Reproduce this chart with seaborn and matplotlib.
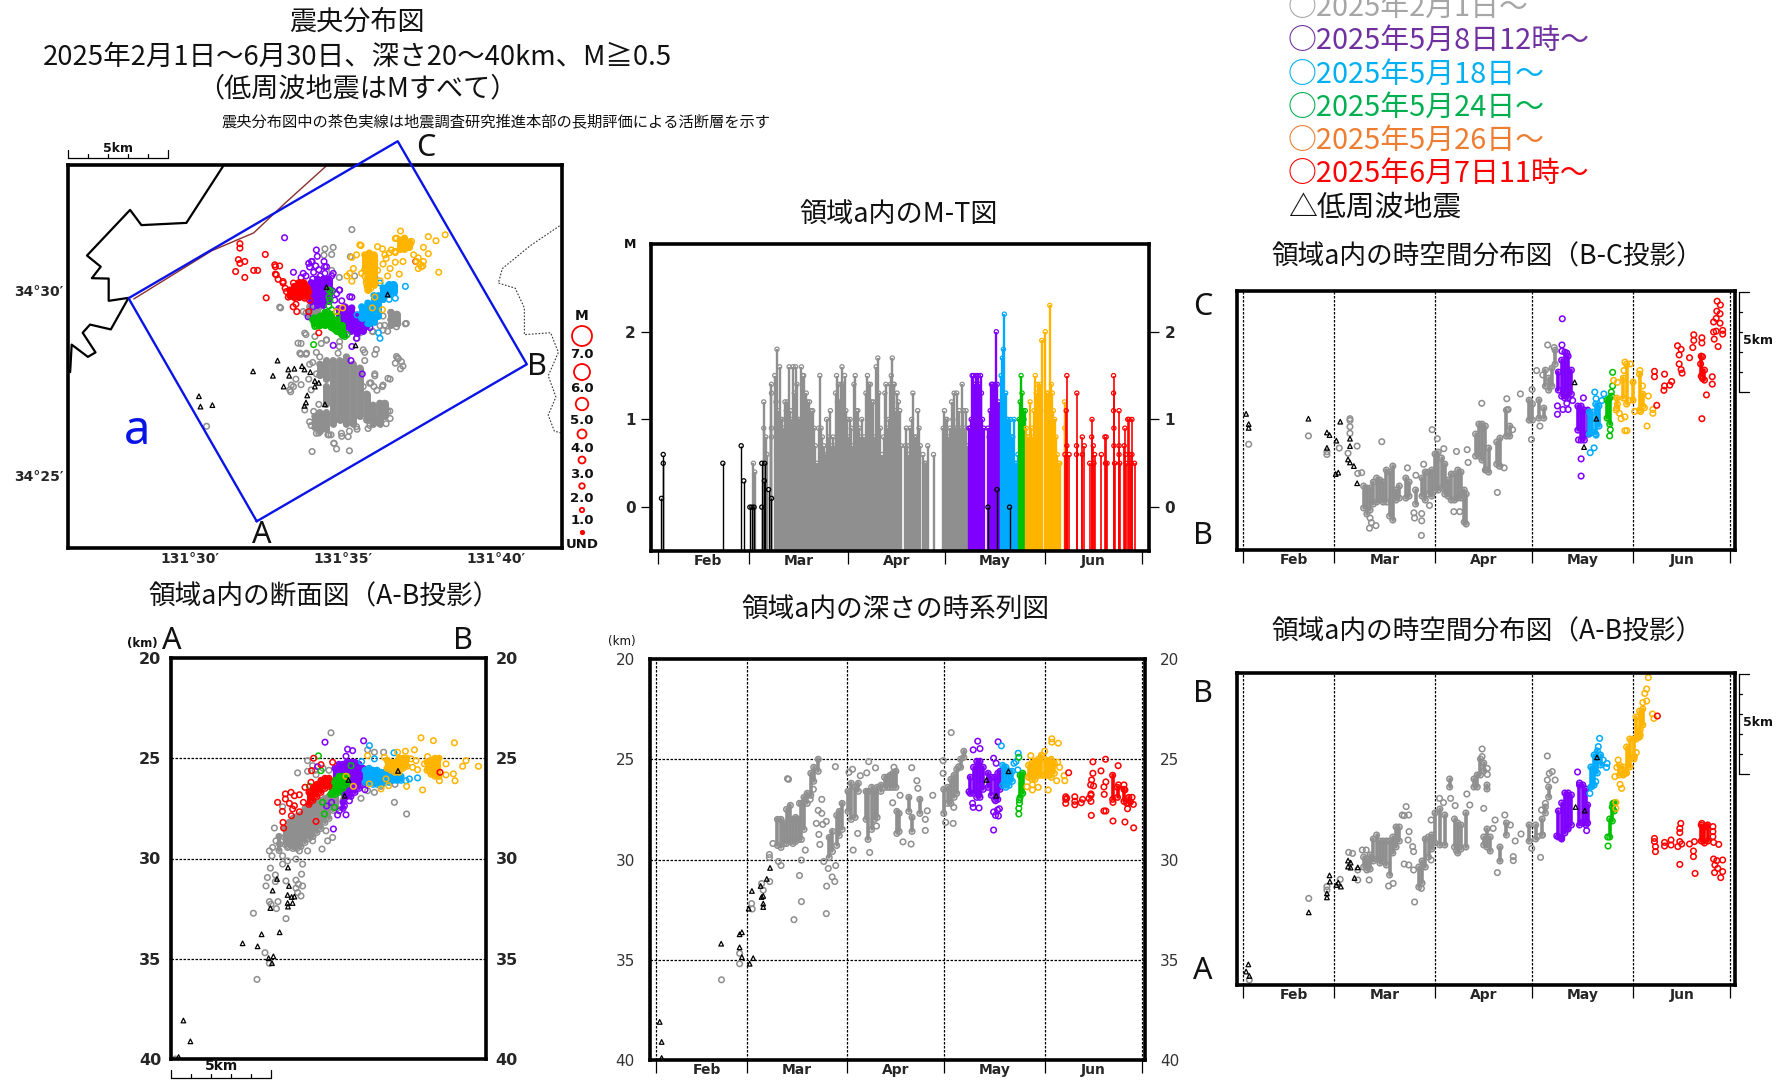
import matplotlib
matplotlib.use("Agg")
import matplotlib.pyplot as plt
import seaborn as sns

# colours of the period classes
GRAY = "#8f8f8f"
PURPLE = "#8000ff"
BLUE = "#00aaff"
GREEN = "#00c000"
ORANGE = "#ffb400"
RED = "#ff0000"

MONTH_STARTS = [0, 28, 59, 89, 120, 150]
MONTH_MIDS = [15.5, 43.5, 74, 104.5, 135]
MONTH_NAMES = ["Feb", "Mar", "Apr", "May", "Jun"]

LEGEND_TEXT = ["○2025年2月1日～", "○2025年5月8日12時～", "○2025年5月18日～", "○2025年5月24日～",
               "○2025年5月26日～", "○2025年6月7日11時～", "△低周波地震"]
LEGEND_COLORS = ["#a6a6a6", "#7030a0", "#00b0f0", "#00b050", "#ed7d31", "#ff0000", "#111111"]

# ---- map: longitude / latitude in minutes (131deg+, 34deg+)
COAST = [(31.08, 33.35), (29.87, 31.81), (28.4, 31.75), (28.03, 32.16), (26.62, 30.93), (27.07, 30.63),
         (26.78, 30.32), (27.33, 30.31), (27.33, 29.71), (27.98, 29.79), (27.4, 28.94), (26.72, 29.07),
         (26.48, 28.85), (26.9, 28.32), (26.65, 28.2), (26.12, 28.53), (26.07, 27.79)]
PREF_BORDER = [(42.07, 31.73), (41.12, 31.2), (40.2, 30.58), (40.07, 30.19), (40.62, 30.05), (40.92, 29.52),
               (40.92, 28.8), (41.78, 28.85), (42.03, 28.32), (41.7, 27.69), (41.95, 27.12), (41.7, 26.63),
               (41.9, 26.2), (42.12, 26.15)]
FAULT = [(28.15, 29.76), (30.7, 31.06), (32.07, 31.54), (33.12, 32.36), (34.45, 33.35)]
REGION_A = [(32.17, 23.77), (41.0, 28.0), (36.78, 34.01), (27.98, 29.78), (32.17, 23.77)]

MAP_GRAY = [(35.28, 31.63), (34.4, 31.11), (34.67, 31.15), (34.62, 30.96), (34.37, 30.94), (35.23, 30.9),
            (34.62, 30.53), (34.87, 30.34), (35.37, 30.38), (32.95, 29.52), (33.78, 29.38), (34.2, 29.52),
            (36.62, 29.33), (36.78, 29.09), (37.03, 29.09), (36.45, 28.89), (36.2, 29.04), (35.95, 28.89),
            (35.45, 28.7), (33.78, 28.8), (33.62, 28.56), (34.28, 28.56), (34.45, 28.65), (34.87, 28.48),
            (33.78, 28.27), (33.62, 28.27), (36.78, 28.17), (36.7, 28.03), (36.87, 27.88), (34.12, 28.32),
            (35.7, 28.32), (36.03, 28.27), (35.12, 28.17), (36.28, 27.4), (36.53, 27.6), (36.03, 27.69),
            (34.12, 27.74), (33.87, 27.6), (33.62, 27.45), (33.37, 27.4), (33.28, 27.26), (33.45, 27.6),
            (33.95, 27.31), (30.53, 26.33), (33.98, 25.65), (34.7, 25.87), (34.78, 25.72), (35.2, 25.67),
            (34.95, 26.06), (34.53, 26.1), (34.2, 26.15), (33.95, 26.35), (36.45, 26.73), (36.53, 26.54),
            (36.2, 26.92), (36.12, 26.44), (35.87, 26.35), (35.45, 26.25), (34.45, 26.92), (34.37, 26.63),
            (34.2, 26.92), (34.03, 26.73), (36.3, 29.3), (36.55, 29.2), (36.35, 29.05), (35.1, 29.5),
            (34.5, 29.4), (34.3, 29.2), (34.0, 29.3), (36.0, 27.4), (36.1, 27.3), (35.9, 27.5), (34.0, 28.05), (33.9, 28.0),
            (36.8, 28.15), (36.95, 27.95), (35.7, 28.1), (36.4, 26.4), (35.2, 26.2), (34.6, 26.1),
            (34.69, 25.87), (35.16, 26.05), (35.81, 26.27), (36.52, 26.74), (36.46, 27.62), (36.03, 27.74), (36.74, 28.21),
            (36.9, 28.07), (33.52, 28.57), (33.58, 28.3), (33.8, 28.3), (34.23, 28.2), (34.83, 28.3), (35.65, 28.39),
            (36.08, 28.4), (33.3, 27.44), (33.25, 27.31), (33.74, 26.77), (33.9, 26.45), (34.12, 26.14), (34.5, 26.1),
            (34.94, 26.14), (35.43, 26.32), (36.03, 26.5), (36.35, 26.9), (35.86, 27.49), (36.3, 27.44), (35.65, 27.4),
            (33.74, 28.84), (34.07, 28.75), (34.45, 28.66), (34.88, 28.61), (35.54, 28.84), (35.97, 28.88), (36.3, 28.92),
            (36.74, 29.01), (37.06, 29.1), (33.69, 29.42), (32.92, 29.54)]
MAP_GRAY_BANDS = [(34.07, 26.3, 26.6), (34.23, 26.2, 26.7), (34.23, 27.7, 28.0), (34.45, 26.25, 26.7), (34.45, 27.6, 28.1), (34.45, 26.95, 27.4),
                  (34.67, 26.4, 28.1), (34.88, 26.5, 28.1), (35.1, 26.4, 28.2), (35.32, 26.4, 28.0), (35.54, 26.6, 27.9),
                  (35.76, 26.5, 27.2), (35.97, 26.4, 26.9), (36.19, 26.4, 26.95), (36.35, 26.6, 26.95),
                  (33.9, 29.3, 29.55), (34.15, 29.35, 29.55), (36.55, 29.05, 29.4), (36.75, 29.1, 29.35)]
MAP_PURPLE = [(33.08, 31.41), (34.12, 31.08), (34.15, 30.91), (33.87, 30.72), (33.98, 30.77), (34.37, 30.77),
              (34.45, 30.63), (33.78, 30.38), (34.03, 30.48), (34.25, 30.38), (34.62, 30.38), (34.37, 30.19),
              (33.62, 30.34), (33.37, 30.48), (34.78, 29.9), (34.87, 30.0), (34.95, 29.71), (35.28, 29.81),
              (35.28, 29.52), (35.45, 29.33), (35.78, 29.04), (35.87, 28.99), (35.45, 28.85), (35.03, 28.8),
              (34.67, 28.51), (35.28, 28.48), (35.62, 27.74), (34.2, 30.55), (34.4, 30.45), (34.0, 30.3),
              (35.25, 28.1), (34.1, 30.65), (33.9, 30.62), (34.5, 30.2), (34.65, 29.98),
              (33.96, 30.77), (34.39, 30.63), (34.67, 30.45), (33.69, 30.45), (34.88, 30.0), (34.72, 29.73), (35.21, 29.82),
              (35.54, 29.1), (35.76, 29.02), (35.43, 28.7), (34.01, 29.55), (33.85, 29.28)]
MAP_PURPLE_BANDS = [(33.95, 29.7, 30.2), (34.15, 29.6, 30.3), (34.35, 29.6, 30.3), (34.52, 29.7, 30.3),
                    (34.85, 29.2, 29.5), (35.05, 29.0, 29.55), (35.25, 28.9, 29.5), (35.45, 28.85, 29.3), (35.65, 28.9, 29.2)]
MAP_BLUE = [(37.03, 30.1), (36.62, 30.14), (36.45, 30.1), (36.2, 30.19), (36.03, 30.34), (36.15, 28.85),
            (36.2, 28.7), (36.53, 30.0), (35.87, 29.09), (35.45, 29.33), (36.7, 29.78), (36.5, 29.75)]
MAP_BLUE_BANDS = [(35.6, 29.25, 29.55), (35.8, 29.1, 29.65), (36.0, 29.15, 29.85), (36.15, 29.3, 29.85),
                  (36.3, 29.75, 30.05), (36.5, 29.9, 30.15), (36.65, 29.95, 30.15)]
MAP_GREEN = [(34.53, 30.0), (34.53, 29.81), (34.53, 29.57), (34.62, 29.47), (34.03, 28.53), (34.2, 29.04),
             (35.12, 28.8), (34.78, 28.89), (34.12, 29.04), (34.45, 29.18), (34.8, 29.3), (34.7, 28.95),
             (34.0, 29.2), (34.9, 28.85), (34.01, 29.2), (34.07, 29.02), (34.88, 28.92), (35.05, 28.75), (34.56, 29.73), (34.61, 29.96)]
MAP_GREEN_BANDS = [(34.05, 29.1, 29.25), (34.25, 29.05, 29.3), (34.4, 29.05, 29.4), (34.6, 29.0, 29.35), (34.8, 28.9, 29.2), (34.95, 28.8, 29.05)]
MAP_ORANGE = [(36.87, 31.59), (38.33, 31.49), (37.78, 31.44), (38.03, 31.33), (36.7, 31.39), (35.58, 31.2),
              (36.12, 31.17), (37.2, 31.25), (37.62, 31.15), (36.28, 31.11), (37.78, 30.98), (35.28, 30.88),
              (36.7, 31.01), (36.95, 30.77), (37.45, 30.87), (37.62, 30.77), (37.45, 30.58), (38.12, 30.48),
              (36.83, 30.43), (36.53, 30.58), (35.33, 30.58), (35.12, 30.38), (35.28, 30.24), (35.7, 30.38),
              (36.12, 30.53), (36.45, 30.38), (35.78, 30.1), (36.03, 29.81), (35.95, 29.52), (34.78, 29.42),
              (34.98, 29.52), (36.28, 29.47), (35.75, 30.2), (35.9, 30.05), (36.3, 30.7), (37.3, 30.95),
              (36.7, 30.75), (36.4, 30.85), (35.6, 30.45), (36.2, 30.25), (36.5, 31.0), (37.5, 30.7), (37.6, 30.65),
              (35.54, 31.22), (35.43, 30.95), (35.21, 30.45), (35.76, 30.27), (36.03, 30.81), (36.36, 30.95),
              (36.68, 31.04), (36.74, 31.4), (36.57, 31.08), (37.23, 31.31), (37.39, 30.77), (37.55, 30.63)]
MAP_ORANGE_BANDS = [(35.7, 30.55, 30.95), (35.85, 30.4, 31.0), (36.0, 30.4, 30.95), (35.8, 30.0, 30.35), (36.0, 30.15, 30.3),
                    (36.85, 31.1, 31.35), (37.0, 31.1, 31.4), (37.15, 31.15, 31.3)]
MAP_RED = [(31.62, 31.25), (31.62, 31.13), (31.57, 30.82), (31.62, 30.72), (31.78, 30.77), (31.48, 30.5),
           (31.78, 30.34), (32.07, 30.53), (32.2, 30.53), (32.45, 30.96), (32.78, 30.63), (32.92, 30.65),
           (32.78, 30.43), (32.87, 30.29), (33.03, 30.19), (33.37, 30.19), (33.62, 30.19), (33.28, 29.95),
           (33.2, 29.81), (33.53, 29.9), (33.78, 30.1), (33.87, 29.95), (33.45, 29.62), (33.48, 29.42),
           (32.48, 29.79), (33.87, 29.42), (34.2, 28.85), (37.37, 30.77), (33.1, 30.05), (33.9, 29.72),
           (32.76, 30.68), (32.81, 30.41), (33.03, 30.23), (33.14, 29.96), (33.36, 29.55), (33.74, 29.78)]
MAP_RED_BANDS = [(33.25, 29.85, 30.0), (33.4, 29.8, 30.1), (33.55, 29.8, 30.2), (33.7, 29.85, 30.2), (33.82, 29.85, 30.05)]
MAP_LOWFREQ = [(30.28, 27.14), (30.33, 26.86), (30.72, 26.9), (32.05, 27.81), (32.7, 27.69), (32.85, 28.1),
               (33.2, 27.86), (33.4, 27.88), (33.65, 27.95), (33.73, 27.86), (33.92, 27.79), (33.23, 27.69),
               (33.05, 27.4), (34.07, 27.55), (34.2, 27.5), (34.07, 27.4), (33.82, 27.16), (33.78, 26.97),
               (33.73, 26.88), (34.4, 26.92), (34.45, 30.08), (36.45, 29.88), (35.4, 28.51)]

# ---- cross section: km along A-B / depth km
CS_GRAY = [(8.0, 23.73), (6.33, 25.73), (6.83, 25.12), (7.08, 25.37), (6.83, 25.65), (7.25, 25.82), (5.17, 28.48),
           (5.58, 27.42), (5.67, 28.95), (5.25, 29.12), (4.92, 29.62), (5.08, 29.45), (5.42, 29.28), (5.05, 29.87),
           (5.58, 29.87), (5.83, 29.45), (6.42, 29.62), (6.83, 29.62), (7.08, 29.12), (7.55, 29.53), (7.83, 29.12),
           (8.08, 28.95), (7.75, 28.62), (6.25, 30.03), (6.58, 30.28), (5.58, 30.28), (5.83, 30.12), (4.97, 30.48),
           (5.22, 30.82), (4.82, 30.95), (4.75, 31.37), (5.22, 31.15), (5.75, 31.12), (6.25, 31.08), (6.53, 30.78),
           (6.58, 31.37), (6.37, 31.28), (6.25, 31.48), (6.33, 31.7), (6.5, 31.87), (4.92, 32.15), (5.35, 32.15),
           (5.0, 32.28), (5.27, 32.5), (5.75, 33.0), (4.12, 32.73), (4.7, 34.7), (4.92, 35.23), (4.3, 36.03),
           (0.22, 40.0), (9.5, 27.0), (11.17, 27.2), (11.78, 27.78), (10.17, 24.7), (9.83, 24.58), (10.17, 26.7),
           (10.63, 24.7), (9.83, 26.62), (7.2, 25.6), (7.6, 25.5), (7.9, 25.6), (10.5, 26.4), (11.2, 26.3)]
CS_GRAY_BANDS = [(5.4, 28.9, 29.6), (5.7, 28.5, 29.3), (5.9, 28.2, 29.4), (6.1, 28.0, 29.5), (6.3, 27.9, 29.5),
                 (6.5, 27.8, 29.4), (6.7, 27.5, 29.2), (6.9, 27.4, 29.0), (7.1, 27.3, 28.9), (7.3, 27.2, 28.7),
                 (7.5, 27.1, 28.5), (7.7, 27.0, 28.2), (7.9, 26.9, 28.0), (8.1, 26.8, 27.6), (8.3, 26.5, 27.5),
                 (8.6, 26.2, 27.1), (8.9, 26.0, 26.8)]
CS_PURPLE = [(7.7, 24.2), (9.63, 24.13), (8.83, 24.55), (9.08, 24.62), (7.33, 25.42), (8.75, 24.9), (8.12, 28.53),
             (7.78, 27.38), (8.03, 27.2), (8.75, 27.82), (8.33, 27.83), (8.67, 27.37), (8.42, 27.62), (9.7, 26.57),
             (8.92, 27.12)]
CS_PURPLE_BANDS = [(8.2, 25.5, 26.4), (8.4, 25.3, 26.5), (8.6, 25.3, 26.7), (8.8, 25.2, 26.9), (9.0, 25.2, 26.9),
                   (9.2, 25.2, 26.7), (9.4, 25.3, 26.5), (9.6, 25.5, 26.3), (8.6, 27.2, 27.5)]
CS_BLUE = [(9.92, 24.37), (11.15, 24.73), (10.17, 25.03), (9.53, 25.17), (12.33, 25.98), (11.92, 26.03), (11.75, 26.12)]
CS_BLUE_BANDS = [(9.7, 25.6, 26.2), (9.9, 25.5, 26.2), (10.1, 25.6, 26.3), (10.3, 25.6, 26.3), (10.5, 25.7, 26.3),
                 (10.7, 25.7, 26.2), (10.9, 25.7, 26.2), (11.1, 25.8, 26.1), (11.3, 25.8, 26.1), (11.5, 25.9, 26.1)]
CS_GREEN = [(7.37, 24.88), (7.5, 25.62), (9.0, 25.37), (6.92, 26.4), (7.58, 27.2), (8.17, 27.45), (7.67, 27.78), (8.0, 26.78)]
CS_GREEN_BANDS = [(8.0, 26.3, 26.8), (8.2, 26.1, 26.8), (8.4, 25.9, 26.7), (8.6, 25.9, 26.5), (8.8, 25.9, 26.3)]
CS_ORANGE = [(12.5, 23.98), (13.12, 24.12), (14.17, 24.23), (11.33, 24.7), (11.72, 24.65), (12.17, 24.58), (10.67, 24.95),
             (9.83, 24.87), (14.75, 25.12), (14.58, 25.4), (15.37, 25.4), (14.12, 25.78), (14.2, 26.12), (13.75, 25.83),
             (13.75, 25.28), (12.58, 26.58), (11.78, 26.4), (10.5, 26.53), (9.92, 26.28), (9.12, 26.4), (8.75, 25.9),
             (10.88, 26.37), (12.08, 25.45), (12.25, 25.12), (12.0, 25.03), (12.67, 25.28), (12.83, 24.92), (13.42, 26.12),
             (12.92, 25.62), (12.33, 25.57), (10.75, 26.03), (11.08, 25.28)]
CS_ORANGE_BANDS = [(10.8, 25.1, 25.5), (11.0, 25.2, 25.6), (11.2, 25.2, 25.7), (11.4, 25.0, 25.7), (11.6, 25.0, 25.5),
                   (11.8, 25.0, 25.4), (12.8, 25.2, 25.6), (13.0, 25.1, 25.8), (13.2, 25.0, 25.9), (13.4, 25.0, 25.9)]
CS_RED = [(7.13, 25.0), (7.5, 25.32), (7.03, 25.62), (8.08, 25.2), (13.45, 25.7), (7.25, 28.15), (5.6, 28.2), (5.63, 28.48),
          (5.33, 27.2), (5.57, 27.65), (5.72, 26.78), (5.72, 27.03), (6.0, 26.7), (6.17, 26.87), (6.42, 26.82), (5.92, 27.25),
          (6.17, 27.37), (6.42, 27.67), (6.02, 27.87), (6.08, 27.53), (6.7, 26.45), (6.62, 27.2), (7.0, 26.2)]
CS_RED_BANDS = [(6.9, 26.7, 27.3), (7.1, 26.5, 27.1), (7.3, 26.3, 26.9), (7.5, 26.1, 26.7), (7.7, 26.0, 26.5), (7.9, 26.0, 26.4)]
CS_LOWFREQ = [(0.62, 38.08), (0.97, 39.12), (0.38, 39.9), (3.58, 34.23), (4.33, 34.38), (4.53, 33.78), (5.43, 33.68),
              (4.88, 34.97), (5.12, 34.88), (5.05, 35.22), (5.85, 30.45), (5.3, 31.02), (5.9, 31.37), (5.08, 31.6),
              (5.83, 31.82), (6.03, 31.92), (6.17, 31.9), (6.08, 32.22), (5.83, 32.22), (5.85, 32.4), (4.97, 32.47),
              (8.68, 26.87), (8.87, 26.08), (11.35, 25.63)]

# ---- M-T: days since 1 Feb / magnitude
MT_BLACK = [(0.95, 0.1), (1.5, 0.6), (1.5, 0.5), (20, 0.5), (25.7, 0.7), (26.5, 0.3), (28.4, 0), (29, 0), (29.7, 0),
            (32.1, 0.5), (32.1, 0), (33, 0.5), (32.9, 0.3), (34.2, 0.2), (35.1, 0.1), (102.3, 0), (105.1, 0.2), (109, 0)]
MT_GRAY = [(29.9, 0.4), (29.5, 0.5), (32.7, 1.2), (33.3, 0.8), (32.7, 0.9), (35.1, 1.4), (35.1, 1.3), (35.1, 0.9), (35.1, 0.8),
           (33.7, 0.6), (36.1, 1.5), (36.5, 1.2), (36.8, 1.8), (37.2, 1.1), (37.6, 1.6), (38, 1.0), (38.4, 1.0), (38.8, 0.9),
           (39.3, 1.2), (39.7, 1.1), (40, 1.2), (40.3, 1.0), (40.6, 1.6), (41, 1.1), (41.4, 1.0), (41.8, 1.6), (42.2, 1.3),
           (42.6, 1.6), (43, 1.4), (43.5, 1.0), (44, 1.0), (44.4, 1.6), (44.8, 1.5), (45.1, 1.5), (45.5, 1.2), (45.9, 1.3),
           (46.3, 1.2), (46.9, 1.2), (47.4, 1.1), (47.9, 1.1), (48.3, 0.9), (48.7, 0.7), (49.2, 0.5), (49.7, 0.9), (50.1, 1.5),
           (50.5, 0.9), (50.9, 0.8), (51.3, 0.7), (51.7, 0.6), (52.2, 1.0), (52.6, 0.6), (53, 0.8), (53.4, 1.1), (53.8, 0.7),
           (54.2, 0.8), (54.7, 0.7), (55, 1.3), (55.3, 1.5), (55.6, 1.2), (55.9, 1.4), (56.3, 1.2), (56.7, 1.4), (57, 1.6),
           (57.4, 1.4), (57.8, 1.5), (58.2, 1.1), (58.7, 1.0), (59.1, 0.8), (59.5, 1.0), (59.9, 0.9), (60.3, 0.7), (60.7, 1.4),
           (61.1, 1.5), (61.5, 1.1), (61.9, 1.1), (62.3, 0.9), (62.7, 0.8), (63.1, 1.0), (63.5, 0.7), (63.9, 0.8), (64.4, 1.3),
           (64.9, 1.5), (65.3, 1.4), (65.8, 1.4), (66.2, 1.2), (66.7, 1.2), (67.1, 0.8), (67.6, 1.6), (68.1, 1.7), (68.4, 1.3),
           (68.9, 0.9), (69.4, 0.6), (69.9, 0.8), (70.3, 1.3), (70.6, 1.4), (71, 0.9), (71.5, 1.0), (72, 1.4), (72.3, 1.5),
           (72.6, 1.7), (73, 1.4), (73.2, 1.4), (73.6, 1.1), (74.1, 1.3), (74.5, 1.2), (74.9, 1.1), (75.3, 0.7), (76.6, 0.7),
           (77, 0.9), (77.3, 0.7), (77.7, 0.6), (78.2, 0.9), (78.6, 1.0), (79, 1.3), (79.5, 0.8), (80, 0.8), (80.5, 1.1),
           (80.9, 0.9), (81.3, 0.7), (82.1, 0.6), (82.6, 0.5), (83.1, 0.5), (83.6, 0.7), (85.4, 0.6), (88.4, 0.9), (88.8, 1.1),
           (89.2, 1.0), (89.6, 1.0), (90, 0.8), (90.5, 0.9), (91, 1.2), (91.4, 1.0), (91.8, 1.3), (92.2, 0.9), (92.6, 1.3),
           (93, 0.9), (93.4, 1.1), (93.8, 0.9), (94.3, 1.4), (94.7, 1.1), (95.1, 0.9), (95.5, 1.1), (95.9, 0.7)]
MT_PURPLE = [(96.4, 0.9), (96.8, 0.9), (97.1, 1.0), (97.4, 1.5), (97.8, 1.5), (98.2, 1.4), (98.5, 1.5), (98.9, 1.5), (99.3, 1.5),
             (99.6, 1.4), (100, 1.5), (100.3, 1.3), (100.6, 1.0), (101, 0.9), (102.3, 0.9), (102.7, 0.8), (103, 1.1), (103.4, 1.4),
             (103.8, 1.4), (104.1, 1.2), (104.5, 1.4), (104.9, 2.0), (105.2, 1.4), (105.6, 1.2), (106, 1.1)]
MT_BLUE = [(106.4, 1.5), (106.8, 1.7), (107.1, 1.8), (107.4, 2.2), (107.8, 1.3), (108.1, 1.0), (108.5, 1.0), (108.9, 0.8),
           (109.3, 1.0), (109.6, 0.8), (110, 0.8), (110.4, 1.0), (110.8, 0.5), (111.2, 0.5), (111.6, 0.6)]
MT_GREEN = [(112, 1.0), (112.3, 1.2), (112.6, 1.5), (112.9, 1.3), (113.2, 1.1), (113.5, 1.0), (113.9, 1.1)]
MT_ORANGE = [(114.2, 0.9), (114.6, 0.8), (115, 0.8), (115.4, 1.2), (115.8, 0.9), (116.2, 0.8), (116.6, 1.1), (117, 1.5), (117.3, 1.3),
             (117.7, 1.4), (118, 1.1), (118.4, 1.4), (118.7, 1.1), (119, 1.9), (120.1, 2.0), (120.5, 1.3), (121, 1.3), (121.5, 2.3),
             (122, 1.4), (122.3, 1.3), (122.6, 1.1), (123, 1.0), (123.4, 0.8), (123.8, 0.6), (124.2, 0.5), (124.6, 0.5),
             (126.1, 1.2), (126.1, 0.9)]
MT_RED = [(126.8, 1.5), (126.6, 1.1), (126.8, 0.7), (126.2, 0.6), (127.5, 0.6), (129.9, 1.3), (129.8, 0.7), (129.8, 0.6), (131.6, 0.8),
          (132.2, 0.7), (131.6, 0.6), (133.9, 0.5), (134.6, 1.0), (134.5, 0.8), (135, 0.7), (135.2, 0.5), (135.4, 0.6), (137.5, 0.6),
          (138.6, 0.8), (139, 0.8), (138.8, 0.5), (139.3, 0.5), (141.3, 1.5), (141.3, 1.3), (141.3, 1.1), (141.4, 0.9), (141.4, 0.7),
          (141.6, 0.5), (143, 1.1), (143, 0.7), (143, 0.6), (143.2, 0.5), (144.6, 0.7), (144.8, 0.9), (145, 0.6), (145.2, 0.5),
          (145.7, 1.0), (146.1, 1.0), (146.3, 0.6), (147, 1.0), (147, 0.6), (147.8, 0.5), (146.8, 0.5)]

# ---- depth time series: day / depth km
DT_GRAY = [(20.1, 36), (25.7, 35.2), (25.7, 34.68), (29.4, 32.2), (29.6, 32.47), (42.5, 33), (52.5, 32.7), (44.8, 32.1), (44.2, 30.8),
           (44.8, 30.03), (37.7, 30.1), (38.5, 30.3), (34.9, 29.75), (34.9, 29.9), (32.5, 31.2), (33, 31.53), (35, 31.1), (40.5, 25.97),
           (40.8, 26), (51.1, 27), (50, 27.55), (51.1, 27.7), (49.4, 28.2), (51.4, 28.25), (52.5, 28.1), (50.2, 28.75), (50.5, 29.25),
           (51.7, 30.1), (53.1, 30.45), (52.6, 31.33), (54.3, 30.87), (55.1, 31.1), (55.4, 30.3), (55.3, 25.37), (44.2, 27.2), (46, 29.53),
           (59.5, 25.65), (60.6, 25.5), (63, 25.82), (65, 25.68), (65.6, 25.12), (67.7, 25.43), (60.8, 29.53), (65.9, 29.65), (62.2, 28.7),
           (68, 28.33), (73, 27.17), (76.2, 29.12), (78.7, 29.23), (83.1, 28), (83.1, 28.55), (83.7, 27.57), (78.9, 25.42), (80.5, 26.07),
           (80.8, 26.45), (75.3, 26.8), (85.4, 26.8), (89.4, 28.15), (91.7, 28.2), (91.9, 27.4), (91.1, 23.67), (88.6, 25.07), (88.6, 25.7),
           (93.4, 25.37), (73.4, 25.4), (36, 29.2), (47.5, 27), (48.5, 26.5)]
DT_GRAY_BANDS = [(37.4, 28.0, 29.3), (38.5, 28.0, 29.4), (39.4, 28.2, 29.2), (40.2, 27.5, 29.2), (41.4, 27.3, 29.1), (42.2, 28.0, 29.2),
                 (43, 27.9, 29.1), (44, 28.0, 29.0), (44.8, 27.2, 29.0), (45.6, 26.9, 28.5), (46.6, 26.7, 27.2), (47.7, 25.7, 26.8),
                 (48.6, 25.4, 26.1), (50, 25, 25.6), (53.4, 28.9, 29.9), (54.4, 28.6, 29.6), (55.7, 27.8, 29.3), (56.5, 27.6, 28.8),
                 (57.4, 27.2, 28.5), (59.2, 26.6, 27.6), (60.2, 26.2, 28.0), (61.4, 26.4, 27.9), (62.4, 26.2, 26.6), (64.8, 26.6, 28.0),
                 (65.4, 26.6, 29), (66.5, 26.4, 28.5), (67.4, 26.6, 28.0), (68.2, 26.4, 27.9), (69.4, 26.3, 26.6), (70.5, 25.9, 26.4),
                 (71.4, 25.9, 26.4), (72.2, 25.8, 26.4), (73.1, 25.7, 26.4), (74, 25.6, 26.4), (74.3, 27.6, 28.7), (75, 27.7, 28.6),
                 (78, 26.9, 27.6), (79, 27.9, 28.6), (81.4, 27, 27.7), (88.8, 26.5, 27.7), (90, 26.4, 27.2), (91, 26, 27.2),
                 (92, 25.8, 26.9), (92.8, 25.5, 26.7), (95, 24.6, 24.9), (94, 25, 25.4)]
DT_PURPLE = [(99.3, 24.1), (105.6, 24.13), (97.9, 24.53), (100, 24.47), (104.2, 24.95), (105, 25.2), (97.7, 27.2), (97.9, 27.4),
             (99.7, 27.43), (104.2, 27.63), (105.4, 27.53), (106, 27.47), (104.8, 27.8), (105.7, 27.83), (104.2, 28.53), (104.8, 27.07),
             (99.7, 26.75), (96.6, 26.62)]
DT_PURPLE_BANDS = [(97, 25.9, 26.7), (98, 25.4, 26.7), (99, 25.1, 26.9), (100, 25.1, 26.9), (101, 25.4, 26.5), (102.5, 25.7, 26.4),
                   (103.5, 25.9, 26.8), (104.5, 25.9, 27), (105.5, 25.7, 27), (106.2, 25.6, 26.5)]
DT_BLUE = [(106.6, 24.33), (111.8, 24.7), (111.1, 25.12), (110.5, 25.2), (111.7, 25.53)]
DT_BLUE_BANDS = [(107, 25.3, 26.3), (108, 25.4, 26.4), (109, 25.6, 26.3), (110, 25.6, 26.1)]
DT_GREEN = [(112, 24.9), (112.2, 27.03), (112.2, 27.2), (112, 27.45), (112, 27.73)]
DT_GREEN_BANDS = [(112.4, 25.8, 26.9), (113.2, 25.7, 26.7)]
DT_ORANGE = [(122.2, 23.98), (122.2, 24.15), (124.2, 24.2), (120, 24.6), (115.7, 24.82), (114.5, 26.37), (116.2, 26.27), (118, 26.4),
             (116.2, 26.53), (121.1, 26.53), (124, 25.15), (124.6, 25.4), (123.7, 26.07), (126, 25.82), (126.2, 26.07), (115, 25.87)]
DT_ORANGE_BANDS = [(115, 25.3, 25.9), (116, 25.2, 26), (117, 25.1, 26), (118, 25.0, 25.8), (119, 24.8, 25.8), (120, 25, 25.8),
                   (121, 25.1, 25.8), (122, 25.0, 25.9), (123, 25.2, 25.7)]
DT_RED = [(126.5, 26.87), (126.5, 27), (126.5, 27.2), (126.8, 26.95), (129.3, 26.87), (129.3, 27.1), (129.3, 27.27), (131.7, 27), (131.3, 27.17),
          (133.7, 26.95), (134.3, 27.1), (134.3, 26.73), (134.3, 26.8), (134.5, 26.03), (134.2, 26.28), (135.1, 26.33), (134.9, 25.7),
          (134.9, 25.13), (137.4, 25.58), (138.8, 25), (138.9, 26.13), (138.3, 26.38), (138.4, 26.75), (138.3, 27.58), (138.9, 27.58),
          (134.4, 27.8), (141.1, 28.08), (144.8, 28.13), (147.5, 28.42), (142.7, 25.32), (145.6, 27.47), (145.4, 27.2), (147.4, 27.25),
          (146.5, 27.13), (144.5, 26.28), (144.8, 26.53), (142.8, 26.28), (127.4, 25.67), (147, 26.9), (141.1, 27.15)]
DT_RED_BANDS = [(141, 25.8, 27.0), (142.5, 26.4, 26.9), (144.5, 26.5, 27.1), (146, 26.9, 27.2)]
DT_LOWFREQ = [(1, 38.1), (1.6, 39.1), (1.6, 39.9), (20, 34.2), (25.7, 33.73), (26.4, 33.63), (25.7, 34.38), (26.4, 34.87), (29.9, 34.92),
              (28.8, 35.2), (28.5, 32.45), (29.5, 31.57), (32.2, 31.32), (32.5, 31.87), (33, 31.82), (33, 32.2), (33, 32.37), (35.1, 30.42),
              (34.1, 30.97), (102, 26.03), (105, 26.82), (108.8, 25.6)]

# ---- space-time B-C: day / km from B
BC_GRAY = [(20, 5.71), (1.6, 5.29), (25.7, 4.78), (25.7, 4.92), (32.8, 6.57), (32.8, 6.48), (32.8, 6.17), (32.8, 5.84), (32.2, 4.84), (29.5, 5.1),
           (35, 5.2), (35.2, 3.83), (36.4, 3.87), (42.6, 5.42), (58.1, 6.02), (59.7, 5.57), (61.7, 5.07), (39, 1.6), (38.8, 1.09), (40.8, 1.22),
           (39.4, 1.37), (54.8, 0.73), (52.5, 1.86), (52.7, 1.6), (54.9, 1.46), (54.9, 1.82), (57.3, 2.23), (50.5, 4.11), (53.1, 3.74), (55.5, 4.29),
           (64.8, 1.92), (66.6, 1.92), (65.6, 4.93), (69.2, 4.38), (68.9, 5.02), (78.2, 2.88), (80.3, 4.11), (78.8, 4.2), (74.8, 4.01), (73.4, 7.34),
           (81.1, 7.57), (81.5, 7.03), (85.3, 7.81), (82.9, 6.02), (88.7, 5.53), (93.7, 10.26), (95.7, 10.13), (90.3, 8.98), (92.2, 8.76),
           (91.3, 6.2), (88.9, 8.03)]
BC_GRAY_BANDS = [(37, 2.1, 3.2), (38, 1.8, 3.1), (39, 2.0, 3.1), (40, 2.3, 3.4), (41, 2.4, 3.6), (42, 2.5, 3.5), (43, 2.4, 3.4), (44, 2.4, 4.0),
                 (45, 1.7, 3.9), (46, 1.5, 4.2), (47, 2.5, 3.0), (48, 2.6, 3.2), (50, 2.6, 3.6), (51, 2.7, 3.4), (53, 2.3, 3.0), (55, 2.7, 3.6),
                 (56, 2.5, 3.9), (57, 2.8, 3.9), (58, 2.7, 4.0), (59, 3.0, 4.8), (60, 3.0, 4.9), (61, 3.1, 4.6), (62, 2.8, 4.3), (63, 2.7, 3.5),
                 (64, 2.5, 3.8), (65, 2.5, 3.8), (66, 2.6, 4.0), (67, 2.6, 3.9), (68, 1.4, 3.0), (68.6, 1.3, 2.8), (71.5, 4.7, 5.8), (72.5, 4.7, 6.3),
                 (73.5, 4.5, 6.3), (74.5, 4.0, 6.2), (75.5, 3.9, 5.1), (78, 4.3, 5.4), (79, 4.2, 5.6), (81, 5.7, 7.0), (82, 5.7, 6.2), (88, 6.5, 7.5),
                 (89, 6.5, 7.3), (91, 6.6, 7.5), (92.5, 6.6, 7.1), (93, 8.2, 9.0), (94, 8.0, 8.6), (95, 8.2, 9.1), (96, 9.3, 10.0)]
BC_PURPLE = [(98.2, 11.57), (98.1, 10.26), (98.1, 9.95), (99.6, 9.85), (96.7, 6.79), (96.7, 7.21), (98.4, 7.03), (100, 7.03), (101.4, 7.48),
             (99.6, 7.34), (104.7, 7.61), (104, 4.56), (104, 3.7), (103.2, 5.51)]
BC_PURPLE_BANDS = [(97, 8.0, 8.9), (98, 7.7, 9.5), (99, 7.6, 9.9), (100, 7.6, 9.7), (101, 7.8, 9.0), (103, 6.0, 7.2), (104, 5.5, 7.2),
                   (105, 5.5, 7.0), (106, 5.8, 7.0)]
BC_BLUE = [(108.2, 7.9), (111, 7.81), (110.4, 7.48), (108.6, 7.57), (108, 5.11), (106.8, 4.87), (108.6, 5.75)]
BC_BLUE_BANDS = [(106.5, 5.8, 6.9), (107.5, 5.9, 6.9), (108.5, 5.8, 7.3), (109.5, 6.2, 7.2)]
BC_GREEN = [(113.7, 8.89), (113.7, 8.21), (112.8, 5.71), (113, 6.02), (113.3, 7.9), (113.4, 7.7)]
BC_GREEN_BANDS = [(112, 6.6, 7.5), (112.8, 6.3, 7.6)]
BC_ORANGE = [(117.5, 9.4), (119.1, 9.31), (117.2, 8.98), (122.1, 8.98), (115.2, 8.39), (114, 8.49), (117.5, 5.97), (118.1, 5.97), (124.3, 6.2),
             (126.1, 7.03), (126.1, 6.84), (117.5, 6.66), (115.8, 6.84), (116.3, 6.57), (118.7, 7.48), (120.5, 6.93), (122.3, 6.93), (123.5, 7.12),
             (124.7, 7.7), (122.9, 8.21), (114.8, 7.0), (115.2, 7.3)]
BC_ORANGE_BANDS = [(115, 7.1, 7.6), (117, 7.6, 8.6), (118, 7.3, 9.3), (120, 7.5, 8.4), (122, 7.0, 8.8), (123, 7.2, 7.8)]
BC_RED = [(126.6, 8.94), (126.6, 8.67), (129.7, 8.8), (129.7, 8.21), (129.5, 7.99), (131.9, 8.43), (131.3, 8.25), (127.3, 7.24), (133.7, 10.22),
          (134.8, 10.04), (134.2, 9.76), (134.2, 9.31), (134.8, 9.03), (135.1, 8.85), (137.4, 9.62), (138.7, 10.77), (138.7, 10.49), (138.4, 10.13),
          (141.2, 10.62), (141.2, 10.36), (141.4, 9.67), (141.2, 6.57), (142.6, 7.76), (140.8, 9.31), (141.4, 8.58), (144.4, 8.67), (144.4, 8.3),
          (145.9, 12.45), (146.9, 12.26), (145.8, 11.95), (146.8, 11.82), (145.6, 11.59), (144.8, 11.41), (146.8, 11.35), (144.8, 10.91),
          (145.6, 10.95), (147.6, 10.99), (147.6, 10.8), (145, 10.55), (146.2, 10.18)]
BC_RED_BANDS = [(141, 8.7, 9.7), (142, 8.5, 9.0)]
BC_LOWFREQ = [(0.8, 6.81), (1.6, 6.3), (1.6, 6.11), (20, 6.57), (25.7, 5.88), (26.5, 5.75), (25.7, 5.11), (29.8, 6.42), (28.6, 5.47), (28.4, 3.8),
              (29.2, 3.87), (32.8, 5.57), (32.8, 5.2), (32.2, 4.53), (32.8, 4.38), (34, 4.2), (35, 3.34), (102, 8.39), (108.7, 6.57), (104.9, 5.15)]

# ---- space-time A-B: day / km from A
AB_GRAY = [(20.1, 4.33), (25.7, 4.92), (25.7, 4.75), (29.8, 5.28), (1.8, 0.25), (32.4, 6.63), (33.6, 6.58), (36.6, 6.75), (37.8, 6.75), (35.2, 5.75),
           (35.2, 5.25), (38.7, 5.25), (44.7, 4.95), (46.1, 5.08), (52.7, 4.15), (54.8, 4.83), (49.5, 6.05), (50.9, 6), (52.4, 5.75), (51, 7.67),
           (50.7, 7.25), (52.1, 6.92), (52.4, 6.67), (50.1, 8.92), (49.5, 8.47), (50.9, 8.5), (48.9, 8.5), (57.8, 6.25), (57.8, 8.25), (60.4, 9.33),
           (63.8, 9.33), (61.6, 9.12), (65.2, 8.97), (68.8, 9.55), (69.7, 9), (74, 8.83), (73.5, 11.8), (73.5, 11.42), (75.1, 10.83), (75.1, 10.53),
           (65.6, 6.72), (78.2, 5.62), (83.7, 7.2), (85.5, 7.55), (83.1, 6.42), (83.1, 6.22), (77.5, 8.25), (80.5, 8.5), (82.2, 8), (76.9, 7.83),
           (91.5, 6.38), (93.6, 11.45), (94.2, 10.58), (95.1, 10.67), (96, 10.25), (93.6, 10.25), (88.8, 6.83), (93, 9.08), (91.8, 8.75), (90.6, 7.42),
           (92.1, 7.5)]
AB_GRAY_BANDS = [(37, 5.9, 6.4), (38, 5.75, 6.3), (39, 5.8, 6.5), (40, 6.2, 7.3), (41, 6.3, 7.5), (42, 6.1, 7.2), (43, 6.2, 7.2), (44, 6.0, 7.2),
                 (45, 5.5, 7.2), (46, 6.6, 7.4), (47, 6.9, 7.9), (48, 7.2, 7.9), (54, 4.9, 5.9), (55, 5.1, 6.2), (56, 5.9, 7.3), (57, 6.4, 7.4),
                 (58, 6.8, 7.5), (59, 7.1, 8.6), (60.5, 7.0, 8.8), (62, 7.0, 8.5), (63.5, 9.9, 10.3), (65, 6.9, 8.3), (66, 6.6, 8.1), (67, 6.8, 8.0),
                 (68.5, 6.9, 8.6), (71, 9.9, 10.3), (72, 9.9, 10.5), (73, 10.5, 11.3), (74, 10.7, 11.1), (75, 9.8, 10.0), (74, 7.0, 7.4), (75, 6.9, 7.8),
                 (76, 6.7, 7.4), (79, 6.2, 6.9), (81, 7.5, 8.1), (88, 7.2, 8.0), (90, 7.3, 8.0), (92, 7.5, 8.3), (93, 8.6, 8.9), (94, 9.4, 9.9)]
AB_PURPLE = [(102.9, 10.65), (96.5, 7.45), (98, 7.37), (99.9, 7.83), (105.7, 7.72), (104.3, 8.12), (103.5, 10.1)]
AB_PURPLE_BANDS = [(97, 7.4, 8.7), (98, 7.3, 9.1), (99, 7.6, 9.6), (100, 7.8, 9.6), (101, 8.0, 9.5), (103.5, 8.0, 10.0), (104.5, 8.1, 10.0),
                   (105.5, 8.0, 9.8), (106, 8.1, 9.0)]
AB_BLUE = [(109.7, 12.33), (109.3, 11.92), (110.8, 11.25), (112, 11.08), (111.8, 10.88), (108.5, 10.17), (107.3, 9.92), (106.7, 9.58)]
AB_BLUE_BANDS = [(107, 9.9, 10.9), (108, 10.0, 11.5), (109, 10.6, 11.7), (110, 11.0, 11.5)]
AB_GREEN = [(112.3, 6.95), (113.8, 9.08), (112.2, 7.4)]
AB_GREEN_BANDS = [(112.8, 7.4, 8.3), (113.6, 8.2, 8.9), (114.2, 8.7, 9.1)]
AB_ORANGE = [(124.7, 15.37), (124.2, 14.8), (123.6, 14.58), (124.2, 14.2), (123, 14.12), (126, 13.55), (126.4, 13.33), (115.4, 11.25), (115, 10.88),
             (114.4, 10.42), (116, 10.03), (116.5, 9.83), (114.7, 9.13), (114.7, 8.83), (120.4, 11.42), (121, 11.62), (122.2, 12.5), (122.2, 12.75),
             (117.4, 10.58)]
AB_ORANGE_BANDS = [(115.8, 10.5, 11.0), (117, 10.5, 10.9), (118, 10.6, 11.9), (119, 10.9, 12.3), (120.3, 11.3, 12.3), (121, 12.3, 13.4), (122, 12.4, 13.7),
                   (123, 13.0, 13.8)]
AB_RED = [(127.5, 13.45), (126.6, 7.33), (126.6, 7.17), (126.9, 6.92), (126.9, 6.67), (129.7, 7.13), (129.7, 6.95), (131.7, 7.25), (131.7, 7), (133.8, 6.92),
          (134.4, 7.17), (135, 7.05), (134.4, 7.83), (134.7, 8.08), (134.4, 7.62), (134.4, 6.03), (137.4, 7.05), (138.9, 7.17), (138.6, 6.7), (138.6, 6.42),
          (139.1, 5.58), (141.2, 8.08), (142.7, 7.92), (144.6, 7.92), (144.6, 7.67), (144.6, 7.42), (144.8, 7.13), (146.4, 7.03), (144.8, 6.3), (145.8, 6.22),
          (147.6, 6.25), (145.2, 6), (146.1, 5.83), (147.6, 5.67), (145.1, 5.62), (147, 5.37)]
AB_RED_BANDS = [(141, 7.2, 8.0), (142, 7.1, 7.9), (143, 7.2, 8.0)]
AB_LOWFREQ = [(1.5, 1.03), (0.8, 0.67), (1.8, 0.45), (20.1, 3.63), (25.7, 4.38), (25.7, 4.58), (26.5, 5.48), (26.6, 5.17), (28.6, 5), (29.2, 5.12), (30, 4.92),
              (32.2, 6.22), (33, 6.12), (32.2, 5.92), (33, 5.87), (35.2, 5.88), (34.2, 5.35), (102.3, 8.9), (105.1, 8.72), (108.9, 11.38)]

M_LEGEND_LABELS = ["7.0", "6.0", "5.0", "4.0", "3.0", "2.0", "1.0", "UND"]
M_LEGEND_SIZES = [207, 133, 81, 42, 25, 16, 10, 6]

sns.set_theme(style="white")
plt.rcParams["font.family"] = ["Noto Sans CJK JP", "DejaVu Sans"]

W, H = 1785, 1080
fig = plt.figure(figsize=(W / 100, H / 100), dpi=100, facecolor="white")


def panel(left, top, right, bottom):
    ax = fig.add_axes([left / W, 1 - bottom / H, (right - left) / W, (bottom - top) / H])
    for s in ax.spines.values():
        s.set_visible(True)
        s.set_linewidth(2.6)
        s.set_color("black")
        s.set_zorder(6)
    ax.set_facecolor("white")
    return ax


def circles(ax, pts, color, s=16, lw=1.1):
    if pts:
        sns.scatterplot(x=[p[0] for p in pts], y=[p[1] for p in pts], ax=ax, s=s, marker="o", facecolors="none",
                        edgecolor=color, linewidth=lw, legend=False, zorder=3)


def bands(ax, rows, color, lw):
    # a dense cloud is a vertical run of events; open circles on its ends keep the edge rough
    if rows:
        ax.vlines([r[0] for r in rows], [r[1] for r in rows], [r[2] for r in rows], colors=color, linewidth=lw,
                  capstyle="round", zorder=3)
        circles(ax, [(r[0], r[1]) for r in rows] + [(r[0], r[2]) for r in rows], color)


def triangles(ax, pts):
    sns.scatterplot(x=[p[0] for p in pts], y=[p[1] for p in pts], ax=ax, s=11, marker="^", facecolors="none",
                    edgecolor="black", linewidth=0.9, legend=False, zorder=4)


def series(ax, groups, lw):
    for pts, rows, color in groups:
        bands(ax, rows, color, lw)
        circles(ax, pts, color)


def months(ax, grid=True):
    ax.set_xticks(MONTH_STARTS)
    ax.set_xticklabels([])
    ax.set_xticks(MONTH_MIDS, minor=True)
    ax.set_xticklabels(MONTH_NAMES, minor=True, fontsize=10, fontweight="bold", family="DejaVu Sans")
    ax.tick_params(axis="x", which="major", bottom=True, length=9.5, width=0.9, color="black")
    ax.tick_params(axis="x", which="minor", bottom=False, length=0, pad=2)
    if grid:
        for d in MONTH_STARTS:
            ax.axvline(d, color="black", lw=0.9, ls=(0, (2, 1.2)), zorder=2)


# map
ax = panel(68, 165, 562, 548)
ax.plot(*zip(*COAST), color="black", lw=1.6, zorder=2)
ax.plot(*zip(*PREF_BORDER), color="#333333", lw=0.8, ls=(0, (1.5, 1.5)), zorder=2)
ax.plot(*zip(*FAULT), color="#8b2e2e", lw=1.0, zorder=2)
series(ax, [(MAP_GRAY, MAP_GRAY_BANDS, GRAY), (MAP_PURPLE, MAP_PURPLE_BANDS, PURPLE), (MAP_RED, MAP_RED_BANDS, RED),
            (MAP_GREEN, MAP_GREEN_BANDS, GREEN), (MAP_BLUE, MAP_BLUE_BANDS, BLUE), (MAP_ORANGE, MAP_ORANGE_BANDS, ORANGE)], 5)
triangles(ax, MAP_LOWFREQ)
ax.plot(*zip(*REGION_A), color="#0a14e6", lw=1.7, zorder=7, clip_on=False)
ax.set_xlim(26.0, 42.15)
ax.set_ylim(23.05, 33.37)
ax.set_xticks([30, 35, 40])
ax.set_xticklabels(["131°30′", "131°35′", "131°40′"], fontsize=10, fontweight="bold", family="DejaVu Sans")
ax.set_yticks([25, 30])
ax.set_yticklabels(["34°25′", "34°30′"], fontsize=10, fontweight="bold", family="DejaVu Sans")
ax.tick_params(axis="both", length=0, pad=3)

# cross section
ax = panel(171, 658, 486, 1059)
series(ax, [(CS_GRAY, CS_GRAY_BANDS, GRAY), (CS_PURPLE, CS_PURPLE_BANDS, PURPLE), (CS_BLUE, CS_BLUE_BANDS, BLUE),
            (CS_GREEN, CS_GREEN_BANDS, GREEN), (CS_ORANGE, CS_ORANGE_BANDS, ORANGE), (CS_RED, CS_RED_BANDS, RED)], 3.0)
triangles(ax, CS_LOWFREQ)
for d in [25, 30, 35]:
    ax.axhline(d, color="black", lw=0.9, ls=(0, (2, 1.2)), zorder=2)
ax.set_xlim(0, 15.75)
ax.set_ylim(40, 20)
ax.set_xticks([])
ax.set_yticks([20, 25, 30, 35, 40])
ax.set_yticklabels(["20", "25", "30", "35", "40"], fontsize=11.5, fontweight="bold", family="DejaVu Sans")
ax.tick_params(axis="y", left=False, right=False, labelright=True, pad=1)

# M-T
ax = panel(651, 244, 1149, 551)
for pts, color, stem_lw in [(MT_GRAY, GRAY, 1.7), (MT_PURPLE, PURPLE, 1.7), (MT_BLUE, BLUE, 1.7), (MT_GREEN, GREEN, 1.7),
                            (MT_ORANGE, ORANGE, 1.7), (MT_RED, RED, 1.2), (MT_BLACK, "black", 1.0)]:
    ax.vlines([p[0] for p in pts], -0.5, [p[1] for p in pts], colors=color, linewidth=stem_lw, zorder=3)
    circles(ax, pts, color, s=9, lw=0.9)
ax.set_xlim(-2.3, 152.3)
ax.set_ylim(-0.5, 3.0)
months(ax, grid=False)
ax.set_yticks([0, 1, 2])
ax.set_yticklabels(["0", "1", "2"], fontsize=11, fontweight="bold", family="DejaVu Sans")
ax.tick_params(axis="y", left=True, right=True, labelleft=True, labelright=True, length=7, width=0.9, color="black", pad=4)

# depth time series
ax = panel(650, 659, 1145, 1060)
series(ax, [(DT_GRAY, DT_GRAY_BANDS, GRAY), (DT_PURPLE, DT_PURPLE_BANDS, PURPLE), (DT_BLUE, DT_BLUE_BANDS, BLUE),
            (DT_GREEN, DT_GREEN_BANDS, GREEN), (DT_ORANGE, DT_ORANGE_BANDS, ORANGE), (DT_RED, DT_RED_BANDS, RED)], 2.6)
triangles(ax, DT_LOWFREQ)
for d in [25, 30, 35]:
    ax.axhline(d, color="black", lw=0.9, ls=(0, (2, 1.2)), zorder=2)
ax.set_xlim(-2, 151)
ax.set_ylim(40, 20)
months(ax)
ax.set_yticks([20, 25, 30, 35, 40])
ax.set_yticklabels(["20", "25", "30", "35", "40"], fontsize=11, family="DejaVu Sans", color="#333333")
ax.tick_params(axis="y", left=False, right=False, labelright=True, pad=5)

# B-C
ax = panel(1237, 291, 1735, 550)
series(ax, [(BC_GRAY, BC_GRAY_BANDS, GRAY), (BC_PURPLE, BC_PURPLE_BANDS, PURPLE), (BC_BLUE, BC_BLUE_BANDS, BLUE),
            (BC_GREEN, BC_GREEN_BANDS, GREEN), (BC_ORANGE, BC_ORANGE_BANDS, ORANGE), (BC_RED, BC_RED_BANDS, RED)], 2.6)
triangles(ax, BC_LOWFREQ)
ax.set_xlim(-2, 151.4)
ax.set_ylim(0, 12.96)
months(ax)
ax.set_yticks([])

# A-B
ax = panel(1237, 673, 1735, 985)
series(ax, [(AB_GRAY, AB_GRAY_BANDS, GRAY), (AB_PURPLE, AB_PURPLE_BANDS, PURPLE), (AB_BLUE, AB_BLUE_BANDS, BLUE),
            (AB_GREEN, AB_GREEN_BANDS, GREEN), (AB_ORANGE, AB_ORANGE_BANDS, ORANGE), (AB_RED, AB_RED_BANDS, RED)], 2.6)
triangles(ax, AB_LOWFREQ)
ax.set_xlim(-2, 151.4)
ax.set_ylim(0, 15.6)
months(ax)
ax.set_yticks([])

# overlay in figure pixels for titles, labels and scale bars
ov = fig.add_axes([0, 0, 1, 1], zorder=20)
ov.set_xlim(0, W)
ov.set_ylim(H, 0)
ov.axis("off")


def label(x, y, s, size=19, **kw):
    kw.setdefault("color", "#111111")
    ov.text(x, y, s, fontsize=size, ha=kw.pop("ha", "center"), va="center", **kw)


label(357, 22, "震央分布図", 19.5)
label(357, 57, "2025年2月1日～6月30日、深さ20～40km、M≧0.5", 19.8)
label(357, 89, "（低周波地震はMすべて）", 19.5)
label(496, 122, "震央分布図中の茶色実線は地震調査研究推進本部の長期評価による活断層を示す", 11)
label(899, 214, "領域a内のM-T図", 19.5)
label(895, 609, "領域a内の深さの時系列図", 19.2)
label(324, 597, "領域a内の断面図（A-B投影）", 19.2)
label(1487, 257, "領域a内の時空間分布図（B-C投影）", 19.2)
label(1487, 632, "領域a内の時空間分布図（A-B投影）", 19.2)

for txt, x, y in [("C", 426, 148), ("A", 262, 535), ("B", 537, 367), ("A", 172, 641), ("B", 463, 641),
                  ("C", 1203, 307), ("B", 1203, 536), ("B", 1203, 694), ("A", 1203, 971)]:
    label(x, y, txt, 22, family="Noto Sans")
label(137, 432, "a", 34, color="#0a14e6", family="Noto Sans")
label(142, 643, "(km)", 8.5, fontweight="bold", family="DejaVu Sans")
label(622, 641, "(km)", 8.5, family="DejaVu Sans")
label(630, 245, "M", 9, fontweight="bold", family="DejaVu Sans")

legend_y = [8, 41, 75, 108, 141, 174, 208]
for txt, col, y in zip(LEGEND_TEXT, LEGEND_COLORS, legend_y):
    label(1288, y, txt, 20.8, color=col, ha="left")


def scale_h(x0, x1, y, up=True, step=20):
    ov.plot([x0, x1], [y, y], color="black", lw=0.9)
    x = x0
    while x <= x1:
        tick = 8 if x in (x0, x1) else 4
        ov.plot([x, x], [y, y - tick], color="black", lw=0.9)
        x += step


def scale_v(x0, y0, y1, step=20):
    ov.plot([x0, x0], [y0, y1], color="black", lw=0.9)
    y = y0
    while y <= y1:
        tick = 10 if y in (y0, y1) else 3
        ov.plot([x0, x0 + tick], [y, y], color="black", lw=0.9)
        y += step


scale_h(68, 168, 158)
label(118, 148, "5km", 9, fontweight="bold", family="DejaVu Sans")
scale_h(171, 271, 1078)
label(222, 1066, "5km", 10, fontweight="bold", family="DejaVu Sans")
scale_v(1739, 292, 392)
label(1758, 341, "5km", 9, fontweight="bold", family="DejaVu Sans")
scale_v(1739, 674, 774)
label(1758, 722, "5km", 9, fontweight="bold", family="DejaVu Sans")

# magnitude size legend
label(582, 316, "M", 10, fontweight="bold", family="DejaVu Sans")
circle_y = [336, 372, 404, 434, 460, 486, 510, 532]
text_y = [355, 389, 420, 449, 475, 499, 521, 544]
for m_txt, s, cy, ty in zip(M_LEGEND_LABELS, M_LEGEND_SIZES, circle_y, text_y):
    filled = m_txt == "UND"
    ov.scatter([582], [cy], s=s, facecolors="red" if filled else "none", edgecolors="red", linewidths=1.3)
    label(582, ty, m_txt, 9.5, fontweight="bold", family="DejaVu Sans")

fig.savefig("out.png", dpi=100, facecolor="white")
